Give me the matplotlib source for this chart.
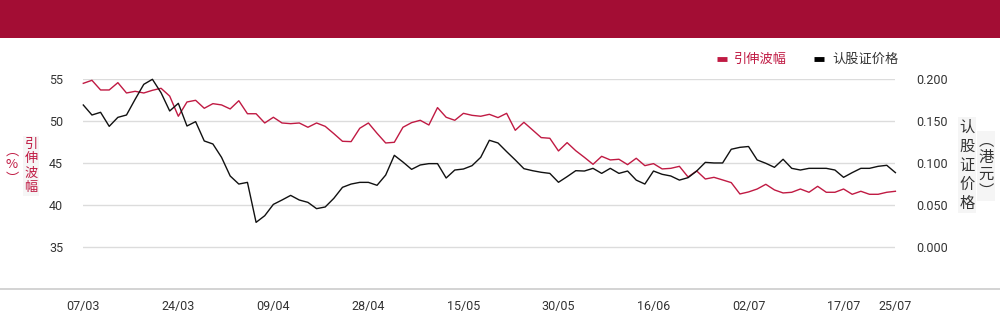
import matplotlib
matplotlib.use("Agg")
import matplotlib.pyplot as plt
from matplotlib.lines import Line2D
from matplotlib.patches import Rectangle

plt.rcParams['font.family'] = ['Roboto', 'Noto Sans CJK SC', 'DejaVu Sans']

tick_labels = ['07/03', '24/03', '09/04', '28/04', '15/05', '30/05', '16/06', '02/07', '17/07', '25/07']
tick_index = [0, 11, 22, 33, 44, 55, 66, 77, 88, 94]

implied_vol = [
    54.52, 54.88, 53.73, 53.73, 54.60, 53.37, 53.57, 53.37, 53.69, 53.93,
    53.00, 50.60, 52.30, 52.50, 51.55, 52.10, 51.95, 51.47, 52.45, 50.90,
    50.90, 49.80, 50.48, 49.80, 49.72, 49.80, 49.29, 49.80, 49.40, 48.53,
    47.62, 47.58, 49.17, 49.80, 48.57, 47.42, 47.50, 49.29, 49.84, 50.12,
    49.56, 51.63, 50.48, 50.12, 50.95, 50.71, 50.60, 50.83, 50.44, 50.95,
    48.93, 49.88, 48.97, 48.06, 47.98, 46.47, 47.46, 46.50, 45.71, 44.88,
    45.83, 45.40, 45.48, 44.84, 45.60, 44.72, 44.96, 44.33, 44.40, 44.64,
    43.37, 44.09, 43.13, 43.33, 43.02, 42.70, 41.35, 41.59, 41.94, 42.50,
    41.83, 41.47, 41.55, 41.94, 41.55, 42.26, 41.55, 41.55, 41.94, 41.31,
    41.67, 41.31, 41.31, 41.55, 41.67,
]

warrant_price = [
    0.1694, 0.1575, 0.1607, 0.1440, 0.1547, 0.1575, 0.1762, 0.1940, 0.2000, 0.1840,
    0.1623, 0.1714, 0.1444, 0.1496, 0.1266, 0.1230, 0.1071, 0.0849, 0.0753, 0.0773,
    0.0297, 0.0376, 0.0511, 0.0563, 0.0618, 0.0563, 0.0535, 0.0460, 0.0480, 0.0583,
    0.0714, 0.0753, 0.0773, 0.0773, 0.0738, 0.0860, 0.1095, 0.1015, 0.0928, 0.0980,
    0.0996, 0.0996, 0.0825, 0.0920, 0.0932, 0.0972, 0.1071, 0.1274, 0.1242, 0.1139,
    0.1040, 0.0936, 0.0912, 0.0893, 0.0880, 0.0774, 0.0841, 0.0912, 0.0908, 0.0940,
    0.0880, 0.0940, 0.0880, 0.0908, 0.0800, 0.0753, 0.0908, 0.0869, 0.0849, 0.0800,
    0.0829, 0.0908, 0.1011, 0.1004, 0.1004, 0.1167, 0.1190, 0.1200, 0.1040, 0.1000,
    0.0952, 0.1048, 0.0940, 0.0920, 0.0940, 0.0940, 0.0940, 0.0920, 0.0833, 0.0889,
    0.0940, 0.0940, 0.0964, 0.0976, 0.0889,
]

left_ticks = [35, 40, 45, 50, 55]
right_ticks = [0.0, 0.05, 0.10, 0.15, 0.20]

RED = '#C01A43'
BAND = '#A30D34'
TXT = '#333333'

W, H = 1000, 324
fig = plt.figure(figsize=(W / 100, H / 100), dpi=100)

def fx(px):
    return px / W

def fy(py):
    return 1 - py / H

# header band
fig.patches.append(Rectangle((0, fy(37.5)), 1, 1 - fy(37.5), transform=fig.transFigure,
                             facecolor=BAND, edgecolor='none', zorder=0))

x0, x1 = 83.3, 895.4
y_top, y_bot = 79.3, 289.3
ax = fig.add_axes([fx(x0), fy(y_bot), fx(x1 - x0), (y_bot - y_top) / H])
ax2 = ax.twinx()

xs = list(range(len(implied_vol)))
ax.plot(xs, implied_vol, color=RED, lw=1.0, clip_on=False, zorder=3)
ax2.plot(xs, warrant_price, color='#111111', lw=1.0, clip_on=False, zorder=3)

ax.set_xlim(0, len(implied_vol) - 1)
ax.set_ylim(30, 55)
ax2.set_ylim(-0.05, 0.2)

ax.set_yticks(left_ticks)
ax.set_yticklabels([str(t) for t in left_ticks])
ax2.set_yticks(right_ticks)
ax2.set_yticklabels(['%.3f' % t for t in right_ticks])
ax.set_xticks(tick_index)
ax.set_xticklabels(tick_labels)

for a in (ax, ax2):
    for s in a.spines.values():
        s.set_visible(False)
ax.tick_params(axis='y', length=0, pad=14.5, labelsize=9, labelcolor=TXT)
ax2.tick_params(axis='y', length=0, pad=15, labelsize=9, labelcolor=TXT)
ax.tick_params(axis='x', length=0, pad=8, labelsize=9, labelcolor=TXT)

ax.grid(axis='y', color='#dcdcdc', lw=1.0)
ax.set_axisbelow(True)

# bottom axis line spanning whole width
fig.add_artist(Line2D([0, 1], [fy(y_bot), fy(y_bot)], transform=fig.transFigure,
                      color='#cccccc', lw=1.2))

cjk = ['Noto Sans CJK SC', 'DejaVu Sans']
# left axis label
fig.text(fx(31), fy(166), '引\n伸\n波\n幅', color=RED, fontsize=9.5, family=cjk,
         ha='center', va='center', linespacing=1.16,
         bbox=dict(facecolor='#f6f6f6', edgecolor='none', pad=1))
fig.text(fx(12), fy(165), '︵\n%\n︶', color=RED, fontsize=9.5, family=cjk,
         ha='center', va='center', linespacing=1.12)
# right axis label
fig.text(fx(967), fy(165), '认\n股\n证\n价\n格', color=TXT, fontsize=11, family=cjk,
         ha='center', va='center', linespacing=1.16,
         bbox=dict(facecolor='#f5f5f5', edgecolor='none', pad=1))
fig.text(fx(986), fy(166), '︵\n港\n元\n︶', color=TXT, fontsize=11, family=cjk,
         ha='center', va='center', linespacing=1.0,
         bbox=dict(facecolor='#f5f5f5', edgecolor='none', pad=1))

# legend
ly = fy(59)
fig.add_artist(Line2D([fx(717), fx(727)], [ly, ly], transform=fig.transFigure,
                      color=RED, lw=3.5, solid_capstyle='butt'))
fig.text(fx(734), ly, '引伸波幅', color=RED, fontsize=9.5, family=cjk, ha='left', va='center')
fig.add_artist(Line2D([fx(814), fx(824)], [ly, ly], transform=fig.transFigure,
                      color='black', lw=3.5, solid_capstyle='butt'))
fig.text(fx(832), ly, '认股证价格', color=TXT, fontsize=9.5, family=cjk, ha='left', va='center')

fig.savefig('out.png', dpi=100)
